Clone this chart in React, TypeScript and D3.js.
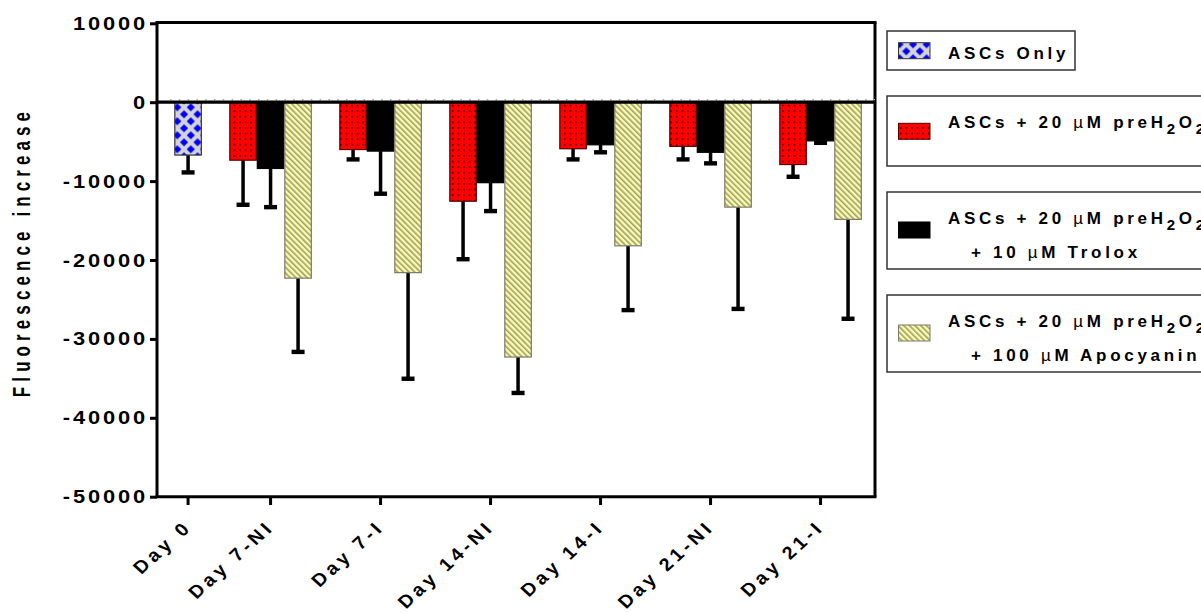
import * as d3 from "d3";
import { useEffect, useRef } from "react";

const categories = ["Day 0", "Day 7-NI", "Day 7-I", "Day 14-NI", "Day 14-I", "Day 21-NI", "Day 21-I"];

// means and one-sided error (SD) per series, null where the group has no bar
const onlyMean = [-6700, null, null, null, null, null, null];
const onlyErr = [2200, null, null, null, null, null, null];
const h2o2Mean = [null, -7350, -6000, -12550, -5900, -5600, -7900];
const h2o2Err = [null, 5650, 1250, 7350, 1350, 1650, 1550];
const troloxMean = [null, -8400, -6200, -10200, -5400, -6350, -4900];
const troloxErr = [null, 4900, 5400, 3600, 950, 1400, 250];
const apoMean = [null, -22300, -21600, -32300, -18200, -13300, -14850];
const apoErr = [null, 9350, 13450, 4550, 8150, 12900, 12600];

const yTicks = [10000, 0, -10000, -20000, -30000, -40000, -50000];

const legendLine1 = ["ASCs Only", "ASCs + 20 µM preH₂O₂", "ASCs + 20 µM preH₂O₂", "ASCs + 20 µM preH₂O₂"];
const legendLine2 = ["", "", "+ 10 µM Trolox", "+ 100 µM Apocyanin"];

const FONT = "'Liberation Sans', Arial, Helvetica, sans-serif";

export default function App() {
  const ref = useRef<SVGSVGElement>(null);

  useEffect(() => {
    if (!ref.current) return;
    const el = ref.current;
    d3.select(el).selectAll("*").remove();
    const svg = d3.select(el);

    const series = [
      { mean: onlyMean, err: onlyErr, fill: "url(#pat-only)", stroke: "#333" },
      { mean: h2o2Mean, err: h2o2Err, fill: "url(#pat-dots)", stroke: "#5a0000" },
      { mean: troloxMean, err: troloxErr, fill: "#000", stroke: "#000" },
      { mean: apoMean, err: apoErr, fill: "url(#pat-stripe)", stroke: "#7a7a6a" },
    ];

    // patterns
    const defs = svg.append("defs");
    const pOnly = defs
      .append("pattern")
      .attr("id", "pat-only")
      .attr("patternUnits", "userSpaceOnUse")
      .attr("x", 177.3)
      .attr("y", 107.3)
      .attr("width", 13.5)
      .attr("height", 14);
    pOnly.append("rect").attr("width", 13.5).attr("height", 14).attr("fill", "#d4d4d4");
    [
      [0, 0],
      [13.5, 0],
      [0, 14],
      [13.5, 14],
      [6.75, 7],
    ].forEach(([cx, cy]) => {
      const r = 4.1;
      pOnly
        .append("path")
        .attr("d", `M${cx},${cy - r}L${cx + r},${cy}L${cx},${cy + r}L${cx - r},${cy}Z`)
        .attr("fill", "#0000ff");
    });

    const pDots = defs
      .append("pattern")
      .attr("id", "pat-dots")
      .attr("patternUnits", "userSpaceOnUse")
      .attr("x", 2)
      .attr("y", 2)
      .attr("width", 5.6)
      .attr("height", 5.6);
    pDots.append("rect").attr("width", 5.6).attr("height", 5.6).attr("fill", "#ff0000");
    pDots.append("rect").attr("x", 2).attr("y", 2).attr("width", 1.4).attr("height", 1.4).attr("fill", "#000");

    const pStripe = defs
      .append("pattern")
      .attr("id", "pat-stripe")
      .attr("patternUnits", "userSpaceOnUse")
      .attr("width", 4)
      .attr("height", 4)
      .attr("patternTransform", "rotate(-45)");
    pStripe.append("rect").attr("width", 4).attr("height", 4).attr("fill", "#ffff99");
    pStripe.append("rect").attr("width", 1.6).attr("height", 4).attr("fill", "#9a9a8a");

    // slot layout: each group holds its present bars, then one empty slot
    const bars: { slot: number; s: number; g: number; mean: number; err: number }[] = [];
    const groupCenter: number[] = [];
    let slot = 0;
    categories.forEach((_, g) => {
      const first = slot;
      series.forEach((s, si) => {
        const m = s.mean[g];
        if (m == null) return;
        bars.push({ slot, s: si, g, mean: m, err: s.err[g] as number });
        slot++;
      });
      groupCenter.push((first + slot) / 2);
      slot++;
    });

    const left = 157;
    const right = 875;
    const x = d3.scaleLinear().domain([-0.63, 25.48]).range([left, right]);
    const y = d3.scaleLinear().domain([-50000, 10000]).range([496.7, 23.3]);
    const sw = x(1) - x(0);

    // error bars (behind bars)
    const eb = svg.append("g");
    eb.selectAll("line")
      .data(bars)
      .join("line")
      .attr("x1", d => x(d.slot) + sw / 2)
      .attr("x2", d => x(d.slot) + sw / 2)
      .attr("y1", d => y(d.mean))
      .attr("y2", d => y(d.mean - d.err))
      .attr("stroke", "#000")
      .attr("stroke-width", 3.5);
    eb.selectAll("rect")
      .data(bars)
      .join("rect")
      .attr("x", d => x(d.slot) + sw / 2 - 6.5)
      .attr("y", d => y(d.mean - d.err) - 2.2)
      .attr("width", 13)
      .attr("height", 4.4)
      .attr("fill", "#000");

    // bars
    svg.append("g")
      .selectAll("rect")
      .data(bars)
      .join("rect")
      .attr("x", d => x(d.slot) + 0.5)
      .attr("y", y(0))
      .attr("width", sw - 1)
      .attr("height", d => y(d.mean) - y(0))
      .attr("fill", d => series[d.s].fill)
      .attr("stroke", d => series[d.s].stroke)
      .attr("stroke-width", 1.2);

    // frame
    const frame = svg.append("g").attr("stroke", "#000").attr("stroke-width", 3).attr("fill", "none");
    frame.append("line").attr("x1", left - 1.5).attr("x2", right + 1.5).attr("y1", 22.5).attr("y2", 22.5);
    frame.append("line").attr("x1", right).attr("x2", right).attr("y1", 22.5).attr("y2", 496.7);
    frame.append("line").attr("x1", left).attr("x2", left).attr("y1", 22.5).attr("y2", 496.7);
    frame.append("line").attr("x1", left - 1.5).attr("x2", right + 1.5).attr("y1", 496.7).attr("y2", 496.7);

    // zero line with faint dotted marks above
    svg.append("line")
      .attr("x1", 170)
      .attr("x2", right)
      .attr("y1", y(0) - 2.5)
      .attr("y2", y(0) - 2.5)
      .attr("stroke", "#aaa")
      .attr("stroke-width", 1.5)
      .attr("stroke-dasharray", "1.5 7.3");
    svg.append("line")
      .attr("x1", left)
      .attr("x2", right)
      .attr("y1", y(0))
      .attr("y2", y(0))
      .attr("stroke", "#000")
      .attr("stroke-width", 3.2);

    // y axis (labels slightly stretched and spaced, as in the source figure)
    const sx = 1.15;
    const ya = svg.append("g").attr("transform", `translate(${left},0)`).call(
      d3.axisLeft(y).tickValues(yTicks).tickSize(7).tickFormat(d => String(d))
    );
    ya.select(".domain").remove();
    ya.selectAll(".tick line").attr("stroke", "#000").attr("stroke-width", 3);
    ya.selectAll(".tick text")
      .attr("x", -9 / sx)
      .attr("transform", `scale(${sx},1)`)
      .attr("font-family", FONT)
      .attr("font-weight", "bold")
      .attr("font-size", 19)
      .attr("letter-spacing", 2.5)
      .attr("fill", "#000");

    svg.append("text")
      .attr("transform", `translate(30,252) scale(1.4,1) rotate(-90)`)
      .attr("text-anchor", "middle")
      .attr("font-family", FONT)
      .attr("font-weight", "bold")
      .attr("font-size", 17)
      .attr("letter-spacing", 5.1)
      .text("Fluorescence increase");

    // x axis ticks and labels
    const xg = svg.append("g");
    xg.selectAll("line")
      .data(groupCenter)
      .join("line")
      .attr("x1", d => x(d))
      .attr("x2", d => x(d))
      .attr("y1", 497)
      .attr("y2", 505)
      .attr("stroke", "#000")
      .attr("stroke-width", 3);
    xg.selectAll("text")
      .data(categories)
      .join("text")
      .attr("transform", (_, i) => `translate(${x(groupCenter[i]) + 5},${528}) scale(1.1,1) rotate(-45)`)
      .attr("text-anchor", "end")
      .attr("font-family", FONT)
      .attr("font-weight", "bold")
      .attr("font-size", 18)
      .attr("letter-spacing", 3.7)
      .text(d => d);

    // legend
    const lgTop = [31, 96, 192, 295];
    const lgH = [39, 70, 77, 77];
    const lgW = [188, 360, 360, 360];
    const lg = svg.append("g");
    series.forEach((s, i) => {
      const g = lg.append("g");
      g.append("rect")
        .attr("x", 887)
        .attr("y", lgTop[i])
        .attr("width", lgW[i])
        .attr("height", lgH[i])
        .attr("fill", "#fff")
        .attr("stroke", "#333")
        .attr("stroke-width", 1.5);
      const two = legendLine2[i] !== "";
      const l1 = lgTop[i] + (i === 0 ? 28.3 : 31.7);
      const swY = i === 0 ? lgTop[i] + 11.7 : two ? lgTop[i] + 30 : lgTop[i] + 27.3;
      g.append("rect")
        .attr("x", 898.5)
        .attr("y", swY)
        .attr("width", 31.5)
        .attr("height", 16)
        .attr("fill", s.fill)
        .attr("stroke", s.stroke)
        .attr("stroke-width", 1);
      const addLine = (str: string, tx: number, ty: number) => {
        const t = g
          .append("text")
          .attr("x", tx)
          .attr("y", ty)
          .attr("font-family", FONT)
          .attr("font-weight", "bold")
          .attr("font-size", 17)
          .attr("letter-spacing", 3.7);
        let buf = "";
        let shift = 0;
        const flush = () => {
          if (!buf) return;
          const sp = t.append("tspan").text(buf);
          if (shift) sp.attr("dy", -shift);
          shift = 0;
          buf = "";
        };
        for (const ch of str) {
          if (ch === "µ") {
            flush();
            const sp = t.append("tspan").attr("font-weight", "normal").text("µ");
            if (shift) sp.attr("dy", -shift);
            shift = 0;
          } else if (ch === "₂") {
            flush();
            t.append("tspan").attr("font-size", 15).attr("dy", 6 - shift).text("2");
            shift = 6;
          } else buf += ch;
        }
        flush();
      };
      addLine(legendLine1[i], 948, l1);
      if (two) addLine(legendLine2[i], 971, lgTop[i] + 66.3);
    });
  }, []);

  return (
    <svg
      ref={ref}
      width={1201}
      height={613}
      style={{ position: "absolute", left: 0, top: 0, background: "#fff", display: "block" }}
    />
  );
}
